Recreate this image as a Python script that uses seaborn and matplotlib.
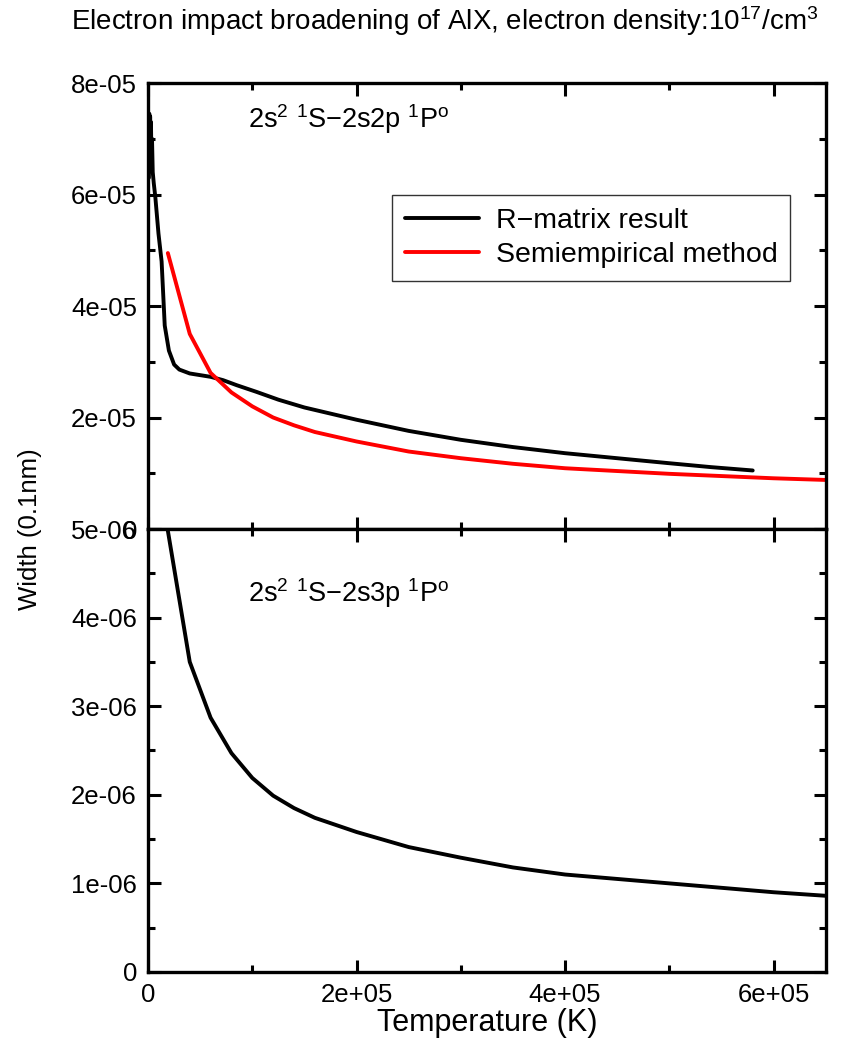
import numpy as np
import pandas as pd
import matplotlib
matplotlib.use("Agg")
import matplotlib.pyplot as plt
from matplotlib.ticker import FixedLocator, MultipleLocator, FuncFormatter
import seaborn as sns

# R-matrix widths, 2s2 1S - 2s2p 1P transition
rmatrix_T = [800, 1200, 1600, 2000, 2400, 2800, 3200, 3800, 4500, 5500, 7000,
             10000, 13000, 16000, 20000, 25000, 30000, 40000, 50000, 60000,
             72000, 85000, 104000, 125000, 150000, 200000, 250000, 300000,
             350000, 400000, 450000, 500000, 540000, 580000]
rmatrix_w = [6.3e-5, 7.45e-5, 6.5e-5, 7.4e-5, 6.6e-5, 7.3e-5, 6.7e-5, 7.0e-5,
             6.4e-5, 6.2e-5, 5.95e-5, 5.3e-5, 4.8e-5, 3.65e-5, 3.2e-5,
             2.95e-5, 2.86e-5, 2.79e-5, 2.76e-5, 2.73e-5, 2.67e-5, 2.58e-5,
             2.46e-5, 2.32e-5, 2.18e-5, 1.96e-5, 1.76e-5, 1.60e-5, 1.47e-5,
             1.36e-5, 1.27e-5, 1.18e-5, 1.11e-5, 1.05e-5]

# Semiempirical widths, 2s2 1S - 2s2p 1P transition
semi_T = [19000, 40000, 60000, 80000, 100000, 120000, 140000, 160000,
          200000, 250000, 300000, 350000, 400000, 450000, 500000, 550000,
          600000, 650000]
semi_w = [4.95e-5, 3.5e-5, 2.8e-5, 2.45e-5, 2.2e-5, 2.0e-5, 1.86e-5, 1.74e-5,
          1.57e-5, 1.39e-5, 1.27e-5, 1.17e-5, 1.09e-5, 1.04e-5, 0.99e-5,
          0.95e-5, 0.91e-5, 0.88e-5]

# Widths for the 2s2 1S - 2s3p 1P transition
p3_T = [19000, 40000, 60000, 80000, 100000, 120000, 140000, 160000, 200000,
        250000, 300000, 350000, 400000, 450000, 500000, 550000, 600000, 650000]
p3_w = [4.98e-6, 3.5e-6, 2.87e-6, 2.47e-6, 2.19e-6, 1.99e-6, 1.85e-6, 1.74e-6,
        1.58e-6, 1.41e-6, 1.29e-6, 1.18e-6, 1.10e-6, 1.05e-6, 1.00e-6,
        0.95e-6, 0.90e-6, 0.86e-6]

x_ticks = [0, 2e5, 4e5, 6e5]
upper_ticks = [0, 2e-5, 4e-5, 6e-5, 8e-5]
lower_ticks = [0, 1e-6, 2e-6, 3e-6, 4e-6, 5e-6]

sns.set_theme(style="ticks")
plt.rcParams["font.family"] = ["Liberation Sans", "DejaVu Sans"]
plt.rcParams["mathtext.fontset"] = "custom"
plt.rcParams["mathtext.rm"] = "Liberation Sans"
plt.rcParams["mathtext.it"] = "Liberation Sans:italic"
plt.rcParams["mathtext.bf"] = "Liberation Sans:bold"
plt.rcParams["text.color"] = "black"
plt.rcParams["axes.labelcolor"] = "black"
plt.rcParams["xtick.color"] = "black"
plt.rcParams["ytick.color"] = "black"

TICK_FS = 18.5
LW = 2.8

fig = plt.figure(figsize=(8.46, 10.43), dpi=100)
ax1 = fig.add_axes([0.175, 0.4928, 0.801, 0.4276])
ax2 = fig.add_axes([0.175, 0.0681, 0.801, 0.4247], sharex=ax1)

df_r = pd.DataFrame({"T": rmatrix_T, "w": rmatrix_w})
df_s = pd.DataFrame({"T": semi_T, "w": semi_w})
df_3 = pd.DataFrame({"T": p3_T, "w": p3_w})

sns.lineplot(data=df_r, x="T", y="w", ax=ax1, color="black", lw=LW,
             label="R\u2212matrix result", sort=False, estimator=None)
sns.lineplot(data=df_s, x="T", y="w", ax=ax1, color="#ff0000", lw=LW,
             label="Semiempirical method", sort=False, estimator=None)
sns.lineplot(data=df_3, x="T", y="w", ax=ax2, color="black", lw=LW,
             sort=False, estimator=None, legend=False)


def sci(v, pos):
    if v == 0:
        return "0"
    return f"{v:.0e}"


for ax in (ax1, ax2):
    ax.set_xlim(0, 6.5e5)
    ax.xaxis.set_major_locator(FixedLocator(x_ticks))
    ax.xaxis.set_minor_locator(MultipleLocator(1e5))
    ax.tick_params(which="both", direction="in", top=True, right=True,
                   width=2.2, labelsize=TICK_FS, pad=8, colors="black")
    ax.tick_params(which="major", length=9)
    ax.tick_params(which="minor", length=5)
    for s in ax.spines.values():
        s.set_linewidth(2.4)
        s.set_color("black")
    ax.set_xlabel("")
    ax.set_ylabel("")
    ax.yaxis.set_major_formatter(FuncFormatter(sci))
    ax.xaxis.set_major_formatter(FuncFormatter(sci))

ax1.set_ylim(0, 8e-5)
ax1.yaxis.set_major_locator(FixedLocator(upper_ticks))
ax1.yaxis.set_minor_locator(MultipleLocator(1e-5))
ax1.tick_params(axis="x", labelbottom=False)

ax2.set_ylim(0, 5e-6)
ax2.yaxis.set_major_locator(FixedLocator(lower_ticks))
ax2.yaxis.set_minor_locator(MultipleLocator(5e-7))
ax2.set_xlabel("Temperature (K)", fontsize=22, labelpad=1)

leg = ax1.legend(loc="upper left", bbox_to_anchor=(0.36, 0.749),
                 borderaxespad=0, fontsize=20.5,
                 frameon=True, fancybox=False, handlelength=2.6,
                 borderpad=0.45, labelspacing=0.3, handletextpad=0.6)
leg.get_frame().set_edgecolor("black")
leg.get_frame().set_linewidth(1.0)
for h in leg.get_lines():
    h.set_linewidth(LW)

ax1.text(0.147, 0.918, r"2s$^2$ $^1$S$-$2s2p $^1$P$^{\rm o}$", transform=ax1.transAxes,
         fontsize=19.5, va="center", ha="left")
ax2.text(0.147, 0.855, r"2s$^2$ $^1$S$-$2s3p $^1$P$^{\rm o}$", transform=ax2.transAxes,
         fontsize=19.5, va="center", ha="left")

fig.text(0.084, 0.980,
         r"Electron impact broadening of AlX, electron density:10$^{17}$/cm$^3$",
         ha="left", va="center", fontsize=20)
fig.text(0.036, 0.493, "Width (0.1nm)", rotation=90, ha="center", va="center",
         fontsize=18.5)

fig.savefig("out.png", dpi=100)
